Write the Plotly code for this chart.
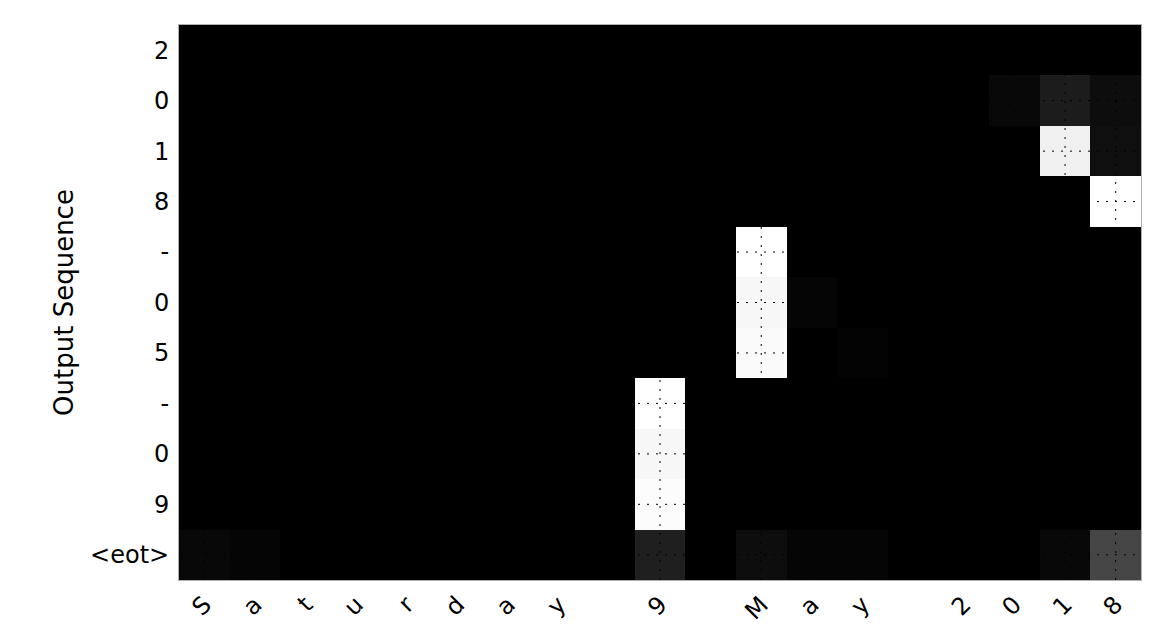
import plotly.graph_objects as go

# attention weights: rows = output sequence, columns = input characters
input_chars = list("Saturday 9 May 2018")
output_chars = ["2", "0", "1", "8", "-", "0", "5", "-", "0", "9", "<eot>"]

attention = [
    [0, 0, 0, 0, 0, 0, 0, 0, 0, 0, 0, 0, 0, 0, 0, 0, 0, 0, 0],
    [0, 0, 0, 0, 0, 0, 0, 0, 0, 0, 0, 0, 0, 0, 0, 0, 0.03, 0.11, 0.05],
    [0, 0, 0, 0, 0, 0, 0, 0, 0, 0, 0, 0, 0, 0, 0, 0, 0, 0.94, 0.06],
    [0, 0, 0, 0, 0, 0, 0, 0, 0, 0, 0, 0, 0, 0, 0, 0, 0, 0, 1.0],
    [0, 0, 0, 0, 0, 0, 0, 0, 0, 0, 0, 1.0, 0, 0, 0, 0, 0, 0, 0],
    [0, 0, 0, 0, 0, 0, 0, 0, 0, 0, 0, 0.97, 0.02, 0, 0, 0, 0, 0, 0],
    [0, 0, 0, 0, 0, 0, 0, 0, 0, 0, 0, 0.98, 0, 0.01, 0, 0, 0, 0, 0],
    [0, 0, 0, 0, 0, 0, 0, 0, 0, 1.0, 0, 0, 0, 0, 0, 0, 0, 0, 0],
    [0, 0, 0, 0, 0, 0, 0, 0, 0, 0.97, 0, 0, 0, 0, 0, 0, 0, 0, 0],
    [0, 0, 0, 0, 0, 0, 0, 0, 0, 0.99, 0, 0, 0, 0, 0, 0, 0, 0, 0],
    [0.03, 0.02, 0, 0, 0, 0, 0, 0, 0, 0.12, 0, 0.05, 0.02, 0.02, 0, 0, 0, 0.03, 0.27],
]

x_idx = list(range(len(input_chars)))
y_idx = list(range(len(output_chars)))

fig = go.Figure()
fig.add_trace(
    go.Heatmap(
        z=attention,
        x=x_idx,
        y=y_idx,
        zmin=0,
        zmax=1,
        colorscale=[[0, "#000000"], [1, "#ffffff"]],
        showscale=False,
        hoverongaps=False,
    )
)

# dotted grid drawn on top of the cells, like the matplotlib grid
for i in x_idx:
    fig.add_vline(x=i, line_width=1, line_color="#000000", line_dash="2px,7px", layer="above")
for j in y_idx:
    fig.add_hline(y=j, line_width=1, line_color="#000000", line_dash="2px,7px", layer="above")

fig.update_layout(
    width=1158,
    height=618,
    paper_bgcolor="#ffffff",
    plot_bgcolor="#000000",
    margin=dict(l=171, r=25, t=17, b=46),
    font=dict(family="DejaVu Sans", size=24, color="#000000"),
    showlegend=False,
)
fig.update_xaxes(
    tickvals=x_idx,
    ticktext=input_chars,
    tickangle=-45,
    tickfont=dict(size=24),
    ticklabelstandoff=0,
    range=[-0.5, len(input_chars) - 0.5],
    showgrid=False,
    zeroline=False,
    showline=True,
    linecolor="#b0b0b0",
    linewidth=1,
    mirror=True,
    ticks="",
    automargin=False,
)
fig.update_yaxes(
    tickvals=y_idx,
    ticktext=output_chars,
    range=[len(output_chars) - 0.5, -0.5],
    showgrid=False,
    zeroline=False,
    showline=True,
    linecolor="#b0b0b0",
    linewidth=1,
    mirror=True,
    ticks="",
    ticklabelstandoff=4,
    automargin=False,
    title=dict(text="Output Sequence", font=dict(size=26), standoff=9),
)

fig.write_html("out.html")
